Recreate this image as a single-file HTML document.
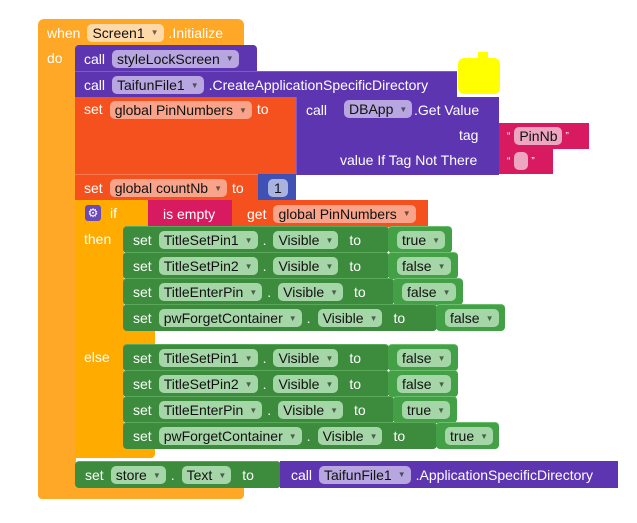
<!DOCTYPE html>
<html><head><meta charset="utf-8"><style>
body{margin:0;width:637px;height:523px;background:#fff;position:relative;overflow:hidden;font-family:"Liberation Sans",sans-serif;font-size:14px;color:#fff}
.b{position:absolute;box-sizing:border-box;display:flex;align-items:center;white-space:nowrap;border-radius:4px}
.t{position:absolute;white-space:nowrap;line-height:16px}
.f{display:inline-flex;align-items:center;height:18px;border-radius:5px;padding:0 5px;color:#111;margin-right:5px}
.f i{font-style:normal;font-size:8px;margin-left:6px;opacity:.6}
.p{background:#5e35b1}.pf{background:#b8a6e0}
.o{background:#f4511e}.of{background:#f9a48a}
.g{background:#3d8b3d;border-top:1px solid #5aa85a}.gv{background:#43a047;border-top:1px solid #6cbf6c}.gf{background:#a5d6a7}
.pk{background:#d81b60}
.s{margin-right:7px}
</style></head><body>
<!-- event block -->
<div class="b" style="left:38px;top:19px;width:206px;height:27px;background:#ffa726;border-radius:6px 6px 0 0;padding-left:9px"><span class="s">when</span><span class="f" style="background:#ffd9a8">Screen1<i>▼</i></span><span>.Initialize</span></div>
<div class="b" style="left:38px;top:45px;width:38px;height:450px;background:#ffa726;border-radius:0"></div>
<div class="b" style="left:38px;top:487px;width:206px;height:12px;background:#ffa726;border-radius:0 0 4px 4px"></div>
<div class="t" style="left:47px;top:50px">do</div>
<!-- yellow blob -->
<div style="position:absolute;left:458px;top:58px;width:42px;height:36px;background:#ffff00;border-radius:6px"></div>
<div style="position:absolute;left:478px;top:52px;width:10px;height:10px;background:#ffff00"></div>
<!-- calls -->
<div class="b p" style="left:75px;top:45px;width:182px;height:27px;padding-left:9px;border-radius:4px 4px 0 0"><span class="s">call</span><span class="f pf">styleLockScreen<i>▼</i></span></div>
<div class="b p" style="left:75px;top:71px;width:382px;height:27px;padding-left:9px;border-radius:0;border-top:1px solid #7c5cc4"><span class="s">call</span><span class="f pf">TaifunFile1<i>▼</i></span><span>.CreateApplicationSpecificDirectory</span></div>
<!-- set PinNumbers -->
<div class="b o" style="left:75px;top:97px;width:222px;height:78px;align-items:flex-start;padding:4px 0 0 9px;border-radius:0"><span class="s">set</span><span class="f of">global PinNumbers<i>▼</i></span><span>to</span></div>
<div class="b p" style="left:296px;top:97px;width:203px;height:78px;border-radius:0;border-left:1px solid #7c5cc4"></div>
<div class="t" style="left:306px;top:102px">call</div>
<div style="position:absolute;left:344px;top:100px"><span class="f pf">DBApp<i>▼</i></span></div>
<div class="t" style="left:414px;top:102px">.Get Value</div>
<div class="t" style="left:459px;top:127px">tag</div>
<div class="t" style="left:340px;top:152px">value If Tag Not There</div>
<div class="b pk" style="left:499px;top:123px;width:90px;height:26px;padding-left:8px;border-radius:0"><span style="font-size:10px;margin-right:4px">“</span><span class="f" style="background:#eea5bf;margin-right:3px">PinNb</span><span style="font-size:10px">”</span></div>
<div class="b pk" style="left:499px;top:148px;width:54px;height:26px;padding-left:8px;border-radius:0"><span style="font-size:10px;margin-right:4px">“</span><span class="f" style="background:#eea5bf;width:4px;margin-right:3px"></span><span style="font-size:10px">”</span></div>
<!-- countNb -->
<div class="b o" style="left:75px;top:174px;width:184px;height:27px;padding-left:9px;border-radius:0;border-top:1px solid #f77a50"><span class="s">set</span><span class="f of">global countNb<i>▼</i></span><span>to</span></div>
<div class="b" style="left:258px;top:174px;width:38px;height:27px;background:#3f51b5;padding-left:10px;border-radius:0"><span class="f" style="background:#aab3e0;padding:0 6px">1</span></div>
<!-- if block -->
<div class="b" style="left:75px;top:200px;width:75px;height:27px;background:#ffab00;border-radius:0"></div>
<div class="b" style="left:75px;top:226px;width:49px;height:232px;background:#ffab00;border-radius:0"></div>
<div class="b" style="left:75px;top:329px;width:80px;height:16px;background:#ffab00;border-radius:0"></div>
<div class="b" style="left:75px;top:447px;width:80px;height:11px;background:#ffab00;border-radius:0 0 4px 4px"></div>
<div style="position:absolute;left:85px;top:205px;width:16px;height:16px;background:#6a4bb5;border-radius:3px;color:#fff;font-size:12px;line-height:16px;text-align:center">⚙</div>
<div class="t" style="left:110px;top:205px">if</div>
<div class="t" style="left:84px;top:231px">then</div>
<div class="t" style="left:84px;top:349px">else</div>
<div class="b pk" style="left:148px;top:200px;width:85px;height:27px;padding-left:15px;border-radius:0">is empty</div>
<div class="b o" style="left:232px;top:200px;width:196px;height:27px;padding-left:15px;border-radius:0"><span class="s">get</span><span class="f of">global PinNumbers<i>▼</i></span></div>
<!-- green rows -->
<div class="b g" style="left:123px;top:226px;width:266px;height:27px;padding-left:10px"><span class="s">set</span><span class="f gf">TitleSetPin1<i>▼</i></span><span class="s">.</span><span class="f gf">Visible<i>▼</i></span><span style="margin-left:6px">to</span></div>
<div class="b gv" style="left:388px;top:226px;width:64px;height:27px;padding-left:9px"><span class="f gf">true<i>▼</i></span></div>
<div class="b g" style="left:123px;top:252px;width:266px;height:27px;padding-left:10px"><span class="s">set</span><span class="f gf">TitleSetPin2<i>▼</i></span><span class="s">.</span><span class="f gf">Visible<i>▼</i></span><span style="margin-left:6px">to</span></div>
<div class="b gv" style="left:388px;top:252px;width:70px;height:27px;padding-left:9px"><span class="f gf">false<i>▼</i></span></div>
<div class="b g" style="left:123px;top:278px;width:271px;height:27px;padding-left:10px"><span class="s">set</span><span class="f gf">TitleEnterPin<i>▼</i></span><span class="s">.</span><span class="f gf">Visible<i>▼</i></span><span style="margin-left:6px">to</span></div>
<div class="b gv" style="left:393px;top:278px;width:70px;height:27px;padding-left:9px"><span class="f gf">false<i>▼</i></span></div>
<div class="b g" style="left:123px;top:304px;width:314px;height:27px;padding-left:10px"><span class="s">set</span><span class="f gf">pwForgetContainer<i>▼</i></span><span class="s">.</span><span class="f gf">Visible<i>▼</i></span><span style="margin-left:6px">to</span></div>
<div class="b gv" style="left:436px;top:304px;width:69px;height:27px;padding-left:9px"><span class="f gf">false<i>▼</i></span></div>

<div class="b g" style="left:123px;top:344px;width:266px;height:27px;padding-left:10px"><span class="s">set</span><span class="f gf">TitleSetPin1<i>▼</i></span><span class="s">.</span><span class="f gf">Visible<i>▼</i></span><span style="margin-left:6px">to</span></div>
<div class="b gv" style="left:388px;top:344px;width:70px;height:27px;padding-left:9px"><span class="f gf">false<i>▼</i></span></div>
<div class="b g" style="left:123px;top:370px;width:266px;height:27px;padding-left:10px"><span class="s">set</span><span class="f gf">TitleSetPin2<i>▼</i></span><span class="s">.</span><span class="f gf">Visible<i>▼</i></span><span style="margin-left:6px">to</span></div>
<div class="b gv" style="left:388px;top:370px;width:70px;height:27px;padding-left:9px"><span class="f gf">false<i>▼</i></span></div>
<div class="b g" style="left:123px;top:396px;width:271px;height:27px;padding-left:10px"><span class="s">set</span><span class="f gf">TitleEnterPin<i>▼</i></span><span class="s">.</span><span class="f gf">Visible<i>▼</i></span><span style="margin-left:6px">to</span></div>
<div class="b gv" style="left:393px;top:396px;width:64px;height:27px;padding-left:9px"><span class="f gf">true<i>▼</i></span></div>
<div class="b g" style="left:123px;top:422px;width:314px;height:27px;padding-left:10px"><span class="s">set</span><span class="f gf">pwForgetContainer<i>▼</i></span><span class="s">.</span><span class="f gf">Visible<i>▼</i></span><span style="margin-left:6px">to</span></div>
<div class="b gv" style="left:436px;top:422px;width:63px;height:27px;padding-left:9px"><span class="f gf">true<i>▼</i></span></div>
<!-- set store -->
<div class="b g" style="left:75px;top:461px;width:206px;height:27px;padding-left:10px"><span class="s">set</span><span class="f gf">store<i>▼</i></span><span class="s">.</span><span class="f gf">Text<i>▼</i></span><span style="margin-left:6px">to</span></div>
<div class="b p" style="left:280px;top:461px;width:338px;height:27px;padding-left:11px;border-radius:0"><span class="s">call</span><span class="f pf">TaifunFile1<i>▼</i></span><span>.ApplicationSpecificDirectory</span></div>
</body></html>
